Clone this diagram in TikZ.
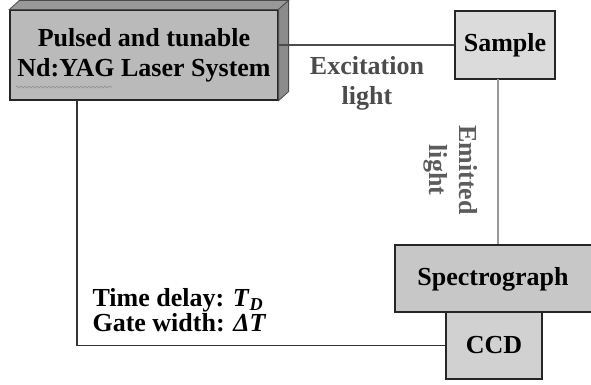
\documentclass[tikz,border=0pt]{standalone}
\usepackage{fontspec}
\setmainfont{Liberation Serif}
\usetikzlibrary{calc,decorations.pathmorphing}
\definecolor{LaserClr}{rgb}{0.73,0.73,0.73}
\definecolor{LaserTopClr}{rgb}{0.6,0.6,0.6}
\definecolor{LaserSideClr}{rgb}{0.55,0.55,0.55}
\definecolor{SampleClr}{rgb}{0.86,0.86,0.86}
\definecolor{SpecClr}{rgb}{0.78,0.78,0.78}
\definecolor{CcdClr}{rgb}{0.82,0.82,0.82}
\definecolor{ExClr}{rgb}{0.3,0.3,0.3}
\definecolor{EmClr}{rgb}{0.6,0.6,0.6}
\definecolor{EmTxtClr}{rgb}{0.36,0.36,0.36}

\begin{document}
\begin{tikzpicture}[x=1pt,y=-1pt,
  font=\fontsize{26}{30}\selectfont\bfseries,
  unit/.style={draw=black!85,line width=1.2pt,inner sep=0pt,align=center},
  exline/.style={ExClr,line width=2pt},
  emline/.style={EmClr,line width=2pt},
  trigline/.style={black!80,line width=1.2pt}]
\useasboundingbox (0,0) rectangle (591,384);

\node[unit,fill=LaserClr,minimum width=268pt,minimum height=90pt] (laser) at (144,55)
  {Pulsed and tunable\\Nd:YAG Laser System};
\filldraw[LaserTopClr,draw=black!70,line width=0.8pt] (laser.north west) -- ++(10,-9)
  -- ($(laser.north east)+(10,-9)$) -- (laser.north east) -- cycle;
\filldraw[LaserSideClr,draw=black!70,line width=0.8pt] (laser.north east) -- ++(10,-9)
  -- ($(laser.south east)+(10,-9)$) -- (laser.south east) -- cycle;
\draw[black!45,line width=0.6pt,decorate,decoration={snake,amplitude=1pt,segment length=4pt}]
  (16,87) -- (112,87);

\node[unit,fill=SampleClr,minimum width=100pt,minimum height=68pt] (sample) at (505,45) {Sample};
\node[unit,fill=SpecClr,minimum width=200pt,minimum height=67pt] (spectro) at (495,278.5) {};
\node at (493,279) {Spectrograph};
\node[unit,fill=CcdClr,minimum width=96pt,minimum height=67pt] (ccd) at (494,345.5) {CCD};

\coordinate (em) at (498,79);
\coordinate (trig) at (77,100);

\draw[exline] (sample.west) -- (sample.west -| laser.east);
\draw[emline] (em) -- (em |- spectro.north);
\draw[trigline] (trig) |- (ccd.west);

\node[ExClr,align=center] (exlabel) at (367,83) {Excitation\\light};
\node[EmTxtClr,align=center,rotate=-90] (emlabel) at (451,170) {Emitted\\light};
\node[anchor=west,align=left,font=\fontsize{26}{25}\selectfont\bfseries] (gate) at (89,310)
  {Time delay: \textit{T}\textsubscript{\textit{D}}\\Gate width: \textit{ΔT}};
\end{tikzpicture}
\end{document}
